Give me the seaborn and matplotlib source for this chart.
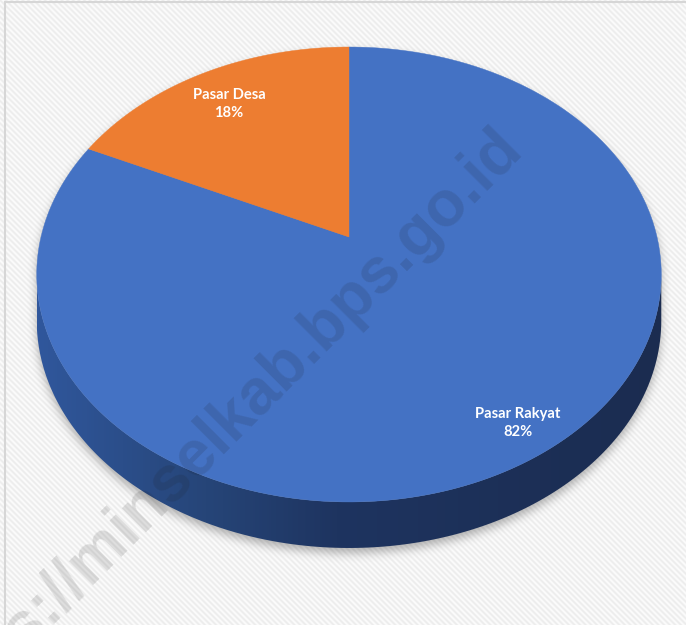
import numpy as np
import matplotlib
matplotlib.use("Agg")
import matplotlib.pyplot as plt
import seaborn as sns
from matplotlib.patches import Polygon
from matplotlib.path import Path
from matplotlib.colors import LinearSegmentedColormap

# ---- data -------------------------------------------------------------
markets = ["Pasar Rakyat", "Pasar Desa"]
shares = [82, 18]
palette = sns.color_palette(["#4472C4", "#ED7D31"])
watermark = "https://minselkab.bps.go.id"

sns.set_theme(style="white")
plt.rcParams["font.family"] = ["Lato", "DejaVu Sans"]

W, H = 686, 625
fig = plt.figure(figsize=(W / 100, H / 100), dpi=100)
ax = fig.add_axes([0, 0, 1, 1])

# ---- tilted disc projection (pixel space) ------------------------------
CX, CY = 349.0, 237.0      # pie centre on screen
RX = 308.0                 # horizontal radius
PA, PC = -182.25, 0.1648   # perspective terms
DEPTH = 46.0               # thickness of the disc


def project(u, v, drop=0.0):
    den = 1.0 + PC * v
    return CX + RX * u / den, (CY + PA * v) / den + drop


def arc(t0, t1, drop=0.0, n=200):
    t = np.radians(np.linspace(t0, t1, n))
    x, y = project(np.cos(t), np.sin(t), drop)
    return np.column_stack([x, y])


# ---- background with fine diagonal stripes -----------------------------
yy, xx = np.mgrid[0:H, 0:W] + 0.5
stripe = 0.5 + 0.5 * np.cos(2 * np.pi * (xx - yy) / 5.6)
bg = 0.988 - 0.06 * stripe
ax.imshow(np.dstack([bg, bg, bg]), extent=(0, W, H, 0), aspect="auto",
          interpolation="bilinear", zorder=0)

# ---- soft drop shadow under the disc -----------------------------------
tang = np.degrees(np.arcsin(PC))
silhouette = np.vstack([arc(-tang, 180 + tang),
                        arc(180 + tang, 360 - tang, DEPTH)])
sil_path = Path(silhouette + np.array([0.0, 5.0]))
mask = sil_path.contains_points(np.column_stack([xx.ravel(), yy.ravel()]))
mask = mask.reshape(H, W).astype(float)


def box_blur(a, r):
    for axis in (0, 1):
        pad = [(r + 1, r) if i == axis else (0, 0) for i in range(2)]
        c = np.cumsum(np.pad(a, pad, mode="edge"), axis=axis)
        if axis == 0:
            a = (c[2 * r + 1:] - c[:-2 * r - 1]) / (2 * r + 1)
        else:
            a = (c[:, 2 * r + 1:] - c[:, :-2 * r - 1]) / (2 * r + 1)
    return a


for _ in range(3):
    mask = box_blur(mask, 4)
shadow = np.zeros((H, W, 4))
shadow[..., :3] = 0.3
shadow[..., 3] = mask * 0.42
ax.imshow(shadow, extent=(0, W, H, 0), aspect="auto", zorder=1)

# ---- visible side wall with a left-to-right shading --------------------
side = np.vstack([arc(180 + tang, 360 - tang),
                  arc(360 - tang, 180 + tang, DEPTH)])
side_patch = Polygon(side, closed=True, facecolor="none", edgecolor="none",
                     zorder=2)
ax.add_patch(side_patch)
side_cmap = LinearSegmentedColormap.from_list(
    "side", [(0.0, "#30579c"), (0.27, "#264578"), (0.48, "#1e3460"),
             (1.0, "#1b2c50")])
x0, x1 = side[:, 0].min(), side[:, 0].max()
y0, y1 = side[:, 1].min(), side[:, 1].max()
grad = np.linspace(0, 1, 400)[None, :]
im = ax.imshow(grad, extent=(x0, x1, y1, y0), aspect="auto", cmap=side_cmap,
               zorder=2)
im.set_clip_path(side_patch)

# ---- top face wedges, clockwise from twelve o'clock --------------------
total = float(sum(shares))
bounds = 90 - np.concatenate([[0], np.cumsum(shares)]) / total * 360
for i, colour in enumerate(palette):
    pts = np.vstack([[project(0, 0)], arc(bounds[i + 1], bounds[i])])
    ax.add_patch(Polygon(pts, closed=True, facecolor=colour,
                         edgecolor=colour, linewidth=0.3, zorder=3))

# ---- data labels --------------------------------------------------------
label_pos = {"Pasar Rakyat": (518, 423), "Pasar Desa": (229, 104)}
for name, val in zip(markets, shares):
    lx, ly = label_pos[name]
    ax.text(lx, ly, f"{name}\n{val / total * 100:.0f}%", ha="center",
            va="center", color="white", fontsize=10.6, fontweight="bold",
            linespacing=1.4, zorder=6)

# ---- diagonal site watermark (runs off the lower-left corner) ----------
ax.text(524, 150, watermark, rotation=45, rotation_mode="anchor",
        ha="right", va="baseline", fontsize=46, fontweight="bold",
        family=["Liberation Sans", "DejaVu Sans"], color="#1a1a1a",
        alpha=0.13, zorder=5, clip_on=True)

# ---- frame ----------------------------------------------------------------
ax.plot([4.5, 4.5], [2, H], color="#d6d6d6", lw=1.5, zorder=7)
ax.plot([4.5, W], [2, 2], color="#d6d6d6", lw=1.5, zorder=7)

ax.set_xlim(0, W)
ax.set_ylim(H, 0)
ax.axis("off")
fig.savefig("out.png", dpi=100)
